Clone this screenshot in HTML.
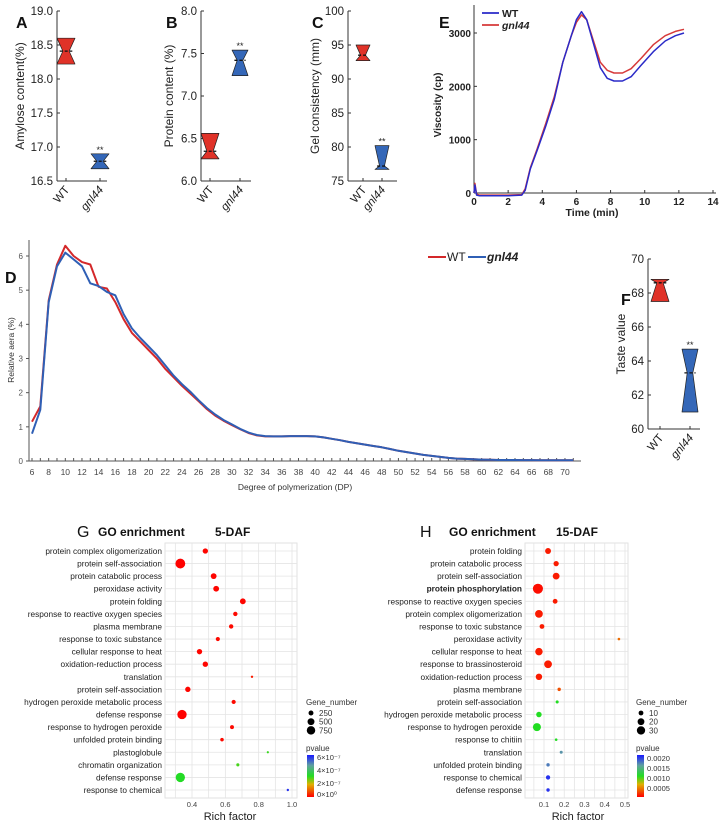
<!DOCTYPE html>
<html><head><meta charset="utf-8"><style>
html,body{margin:0;padding:0;background:#fff}
svg{display:block;font-family:"Liberation Sans",Arial,sans-serif}
</style></head><body>
<svg id="fig" width="724" height="826" viewBox="0 0 724 826" xmlns="http://www.w3.org/2000/svg">
<defs>
<linearGradient id="gradG" x1="0" y1="1" x2="0" y2="0">
<stop offset="0" stop-color="#ff0000"/><stop offset="0.3" stop-color="#e0b000"/><stop offset="0.5" stop-color="#22dd22"/><stop offset="0.75" stop-color="#60a0a0"/><stop offset="1" stop-color="#1a1aff"/></linearGradient>
</defs>
</svg>
<script>
// ---------- data ----------
const violinCats = ["WT", "gnl44"];
const amyloseWT = [18.22, 18.41, 18.6];
const amyloseGnl = [16.68, 16.79, 16.9];
const proteinWT = [6.26, 6.35, 6.56];
const proteinGnl = [7.24, 7.42, 7.54];
const gelWT = [92.7, 93.5, 95.0];
const gelGnl = [76.7, 77.2, 80.2];
const tasteWT = [67.5, 68.6, 68.8];
const tasteGnl = [61.0, 63.3, 64.7];

const rvaTime = [0,0.05,0.15,0.3,1,2,2.8,3.0,3.3,3.7,4.2,4.7,5.2,5.7,6.0,6.3,6.6,7.0,7.4,7.8,8.2,8.7,9.2,9.8,10.5,11.2,11.8,12.3];
const rvaWT = [0,150,-40,-50,-50,-50,-40,50,450,800,1250,1750,2450,2950,3250,3400,3250,2800,2350,2150,2100,2100,2180,2400,2650,2850,2950,3000];
const rvaGnl = [0,180,-20,-40,-40,-40,-30,80,470,830,1300,1800,2450,2950,3200,3340,3250,2850,2450,2300,2250,2250,2330,2530,2780,2950,3030,3070];

const dpValues = [6,7,8,9,10,11,12,13,14,15,16,17,18,19,20,21,22,23,24,25,26,27,28,29,30,31,32,33,34,35,36,37,38,39,40,41,42,43,44,45,46,47,48,49,50,51,52,53,54,55,56,57,58,59,60,61,62,63,64,65,66,67,68,69,70,71];
const dpWT = [1.15,1.6,4.7,5.75,6.3,6.0,5.82,5.75,5.1,5.05,4.65,4.15,3.75,3.5,3.25,3.0,2.7,2.45,2.2,1.98,1.75,1.52,1.33,1.18,1.05,0.93,0.82,0.75,0.72,0.72,0.72,0.73,0.73,0.73,0.72,0.69,0.65,0.61,0.56,0.52,0.48,0.44,0.4,0.35,0.3,0.26,0.22,0.18,0.15,0.12,0.09,0.07,0.06,0.05,0.04,0.035,0.03,0.03,0.03,0.025,0.025,0.02,0.02,0.02,0.02,0.02];
const dpGnl = [0.8,1.5,4.65,5.7,6.1,5.9,5.7,5.2,5.12,4.95,4.85,4.3,3.88,3.6,3.35,3.1,2.8,2.5,2.25,2.03,1.78,1.55,1.36,1.2,1.07,0.94,0.83,0.76,0.73,0.72,0.72,0.73,0.73,0.73,0.72,0.69,0.65,0.61,0.56,0.52,0.48,0.44,0.4,0.35,0.3,0.26,0.22,0.18,0.15,0.12,0.09,0.07,0.06,0.05,0.04,0.035,0.03,0.03,0.03,0.025,0.025,0.02,0.02,0.02,0.02,0.02];

const goTermsG = ["protein complex oligomerization","protein self-association","protein catabolic process","peroxidase activity","protein folding","response to reactive oxygen species","plasma membrane","response to toxic substance","cellular response to heat","oxidation-reduction process","translation","protein self-association","hydrogen peroxide metabolic process","defense response","response to hydrogen peroxide","unfolded protein binding","plastoglobule","chromatin organization","defense response","response to chemical"];
const richG = [0.48,0.33,0.53,0.545,0.705,0.66,0.635,0.555,0.445,0.48,0.76,0.375,0.65,0.34,0.64,0.58,0.855,0.675,0.33,0.975];
const genesG = [300,1000,350,350,350,200,200,180,300,300,60,300,180,900,160,130,50,100,900,60];
const pvalG = [0.05,0.01,0.05,0.05,0.05,0.1,0.1,0.1,0.05,0.05,0.3,0.05,0.1,0.01,0.1,0.1,3.1,3.0,3.3,6.2]; // x1e-7

const goTermsH = ["protein folding","protein catabolic process","protein self-association","protein phosphorylation","response to reactive oxygen species","protein complex oligomerization","response to toxic substance","peroxidase activity","cellular response to heat","response to brassinosteroid","oxidation-reduction process","plasma membrane","protein self-association","hydrogen peroxide metabolic process","response to hydrogen peroxide","response to chitiin","translation","unfolded protein binding","response to chemical","defense response"];
const richH = [0.12,0.16,0.16,0.07,0.155,0.075,0.09,0.47,0.075,0.12,0.075,0.175,0.165,0.075,0.065,0.16,0.185,0.12,0.12,0.12];
const genesH = [15,12,20,44,10,26,10,3,24,26,18,5,4,13,28,3,4,5,8,5];
const pvalH = [0.0001,0.0001,0.0001,0.00005,0.0001,0.0001,0.0001,0.0004,0.0001,0.0001,0.0001,0.0003,0.0011,0.0011,0.0011,0.0011,0.0017,0.0018,0.0021,0.0021];

// ---------- helpers ----------
const NS = "http://www.w3.org/2000/svg";
const svg = document.getElementById("fig");
function mk(tag, attrs, parent) {
  const e = document.createElementNS(NS, tag);
  for (const k in attrs) e.setAttribute(k, attrs[k]);
  (parent || svg).appendChild(e);
  return e;
}
function txt(x, y, s, attrs) {
  const t = mk("text", Object.assign({x: x, y: y}, attrs || {}));
  t.textContent = s;
  return t;
}
function linScale(d0, d1, r0, r1) { return v => r0 + (v - d0) * (r1 - r0) / (d1 - d0); }

// ---------- violin panels ----------
function violinPanel(o) {
  const g = mk("g", {});
  
  
  const y = linScale(o.vmin, o.vmax, o.yBot, o.yTop);
  let l = mk("line", {x1: o.ax, y1: o.yTop, x2: o.ax, y2: o.yBot, stroke: "#333", "stroke-width": 1}, g);
  
  
  l = mk("line", {x1: o.ax, y1: o.yBot, x2: o.xEnd, y2: o.yBot, stroke: "#333", "stroke-width": 1}, g);
  
  
  o.ticks.forEach(v => {
    mk("line", {x1: o.ax, y1: y(v), x2: o.ax + 3, y2: y(v), stroke: "#333"}, g);
    const t = txt(o.ax - 4, y(v) + 4, o.fmt(v), {"font-size": 11.5, "text-anchor": "end", fill: "#222"}, g);
    
    
  });
  const yl = txt(0, 0, o.ylabel, {"font-size": 12, "text-anchor": "middle", fill: "#222", transform: `translate(${o.ylx},${(o.yTop + o.yBot) / 2}) rotate(-90)`}, g);
  
  
  const lt = txt(o.lx, o.ly, o.letter, {"font-size": 16, "font-weight": "bold", fill: "#111"}, g);
  
  
  [o.wt, o.gnl].forEach((d, i) => {
    const cx = o.cx[i], hw = o.hw[i];
    const yb = y(d[0]), ym = y(d[1]), yt = y(d[2]);
    const nw = hw * 0.35;
    const p = mk("path", {d: `M${cx - hw},${yt} L${cx - nw},${ym} L${cx - hw},${yb} L${cx + hw},${yb} L${cx + nw},${ym} L${cx + hw},${yt} Z`,
      fill: i === 0 ? "#e03228" : "#3467b8", stroke: "#222", "stroke-width": 0.7, "stroke-linejoin": "round"}, g);
    
    
    const m = mk("line", {x1: cx - hw * 0.7, y1: ym, x2: cx + hw * 0.7, y2: ym, stroke: "#111", "stroke-width": 1.3, "stroke-dasharray": "3,2"}, g);
    
    
    mk("line", {x1: cx, y1: o.yBot, x2: cx, y2: o.yBot - 3, stroke: "#333"}, g);
    const xl = txt(0, 0, violinCats[i], {"font-size": 11.5, "text-anchor": "end", fill: "#222", "font-style": i ? "italic" : "normal", transform: `translate(${cx + 4},${o.yBot + 9}) rotate(-50)`}, g);
    
    
  });
  const st = txt(o.cx[1], y(o.gnl[2]) - 1, "**", {"font-size": 9, "text-anchor": "middle", fill: "#222"}, g);
  
  
}
violinPanel({name: "panel-a-amylose", ax: 57, xEnd: 107, yTop: 11, yBot: 181, vmin: 16.5, vmax: 19, ticks: [16.5,17,17.5,18,18.5,19], fmt: v => v.toFixed(1),
  cx: [66, 100], hw: [9, 9], wt: amyloseWT, gnl: amyloseGnl, ylabel: "Amylose content(%)", ylx: 24, letter: "A", lx: 16, ly: 28});
violinPanel({name: "panel-b-protein", ax: 201, xEnd: 251, yTop: 11, yBot: 181, vmin: 6, vmax: 8, ticks: [6,6.5,7,7.5,8], fmt: v => v.toFixed(1),
  cx: [210, 240], hw: [9, 8], wt: proteinWT, gnl: proteinGnl, ylabel: "Protein content (%)", ylx: 173, letter: "B", lx: 166, ly: 28});
violinPanel({name: "panel-c-gel", ax: 348, xEnd: 397, yTop: 11, yBot: 181, vmin: 75, vmax: 100, ticks: [75,80,85,90,95,100], fmt: v => String(v),
  cx: [363, 382], hw: [7, 7], wt: gelWT, gnl: gelGnl, ylabel: "Gel consistency (mm)", ylx: 319, letter: "C", lx: 312, ly: 28});
violinPanel({name: "panel-f-taste", ax: 648, xEnd: 700, yTop: 259, yBot: 429, vmin: 60, vmax: 70, ticks: [60,62,64,66,68,70], fmt: v => String(v),
  cx: [660, 690], hw: [9, 8], wt: tasteWT, gnl: tasteGnl, ylabel: "Taste value", ylx: 625, letter: "F", lx: 621, ly: 305});

// ---------- panel E: RVA ----------
(function () {
  const g = mk("g", {});
  
  
  const x = linScale(0, 14, 474, 713), y = linScale(0, 3000, 193, 33);
  mk("line", {x1: 474, y1: 5, x2: 474, y2: 193, stroke: "#333"}, g);
  mk("line", {x1: 474, y1: 193, x2: 716, y2: 193, stroke: "#333"}, g);
  [0, 1000, 2000, 3000].forEach(v => {
    mk("line", {x1: 474, y1: y(v), x2: 477, y2: y(v), stroke: "#333"}, g);
    const t = txt(471, y(v) + 4, String(v), {"font-size": 10, "font-weight": "bold", "text-anchor": "end", fill: "#222"}, g);
    
    
  });
  [0, 2, 4, 6, 8, 10, 12, 14].forEach(v => {
    mk("line", {x1: x(v), y1: 193, x2: x(v), y2: 190, stroke: "#333"}, g);
    const t = txt(x(v), 205, String(v), {"font-size": 10, "font-weight": "bold", "text-anchor": "middle", fill: "#222"}, g);
    
    
  });
  let t = txt(592, 216, "Time (min)", {"font-size": 10.5, "font-weight": "bold", "text-anchor": "middle", fill: "#222"}, g);
  
  
  t = txt(0, 0, "Viscosity (cp)", {"font-size": 10, "font-weight": "bold", "text-anchor": "middle", fill: "#222", transform: "translate(441,105) rotate(-90)"}, g);
  
  
  t = txt(439, 28, "E", {"font-size": 16, "font-weight": "bold", fill: "#111"}, g);
  
  
  [[rvaGnl, "#d63a3a", "rva-line-gnl44"], [rvaWT, "#2a2ac8", "rva-line-wt"]].forEach(s => {
    const d = rvaTime.map((tt, i) => (i ? "L" : "M") + x(tt).toFixed(1) + "," + y(s[0][i]).toFixed(1)).join(" ");
    const p = mk("path", {d: d, fill: "none", stroke: s[1], "stroke-width": 1.5, "stroke-linejoin": "round"}, g);
    
    
  });
  mk("line", {x1: 482, y1: 13, x2: 499, y2: 13, stroke: "#2a2ac8", "stroke-width": 1.8}, g);
  t = txt(502, 17, "WT", {"font-size": 10.5, "font-weight": "bold", fill: "#222"}, g);
  
  
  mk("line", {x1: 482, y1: 25, x2: 499, y2: 25, stroke: "#d63a3a", "stroke-width": 1.8}, g);
  t = txt(502, 29, "gnl44", {"font-size": 10.5, "font-weight": "bold", "font-style": "italic", fill: "#222"}, g);
  
  
})();

// ---------- panel D: DP distribution ----------
(function () {
  const g = mk("g", {});
  
  
  const x = linScale(6, 64, 32, 515), y = linScale(0, 6, 461, 256);
  mk("line", {x1: 29, y1: 240, x2: 29, y2: 461, stroke: "#555"}, g);
  mk("line", {x1: 29, y1: 461, x2: 581, y2: 461, stroke: "#555"}, g);
  for (let v = 0; v <= 6; v++) {
    mk("line", {x1: 26, y1: y(v), x2: 29, y2: y(v), stroke: "#555"}, g);
    const t = txt(23, y(v) + 3, String(v), {"font-size": 8, "text-anchor": "end", fill: "#555"}, g);
    
    
  }
  for (let v = 6; v <= 71; v++) {
    mk("line", {x1: x(v), y1: 461, x2: x(v), y2: 458, stroke: "#555"}, g);
    if (v % 2 === 0) {
      const t = txt(x(v), 475, String(v), {"font-size": 8.5, "text-anchor": "middle", fill: "#444"}, g);
      
      
    }
  }
  let t = txt(295, 490, "Degree of polymerization (DP)", {"font-size": 8.5, "text-anchor": "middle", fill: "#333"}, g);
  
  
  t = txt(0, 0, "Relative aera (%)", {"font-size": 8.5, "text-anchor": "middle", fill: "#333", transform: "translate(14,350) rotate(-90)"}, g);
  
  
  t = txt(5, 283, "D", {"font-size": 16, "font-weight": "bold", fill: "#111"}, g);
  
  
  [[dpWT, "#d4282a", "dp-line-wt"], [dpGnl, "#2f5fb5", "dp-line-gnl44"]].forEach(s => {
    const d = dpValues.map((v, i) => (i ? "L" : "M") + x(v).toFixed(1) + "," + y(s[0][i]).toFixed(1)).join(" ");
    const p = mk("path", {d: d, fill: "none", stroke: s[1], "stroke-width": 2, "stroke-linejoin": "round"}, g);
    
    
  });
  mk("line", {x1: 428, y1: 257, x2: 446, y2: 257, stroke: "#d4282a", "stroke-width": 2}, g);
  t = txt(447, 261, "WT", {"font-size": 12, fill: "#222"}, g);
  
  
  mk("line", {x1: 468, y1: 257, x2: 486, y2: 257, stroke: "#2f5fb5", "stroke-width": 2}, g);
  t = txt(487, 261, "gnl44", {"font-size": 12, "font-weight": "bold", "font-style": "italic", fill: "#222"}, g);
  
  
})();

// ---------- GO bubble panels ----------
function pColor(f) {
  const stops = [[0, [255, 0, 0]], [0.3, [224, 176, 0]], [0.5, [34, 221, 34]], [0.75, [96, 160, 160]], [1, [26, 26, 255]]];
  f = Math.max(0, Math.min(1, f));
  for (let i = 1; i < stops.length; i++) {
    if (f <= stops[i][0]) {
      const a = stops[i - 1], b = stops[i], k = (f - a[0]) / (b[0] - a[0]);
      return "rgb(" + a[1].map((c, j) => Math.round(c + (b[1][j] - c) * k)).join(",") + ")";
    }
  }
  return "rgb(26,26,255)";
}
function goPanel(o) {
  const g = mk("g", {});
  
  
  const x = o.x;
  const y = i => 551 + i * (790 - 551) / 19;
  mk("rect", {x: o.left, y: 543, width: o.right - o.left, height: 255, fill: "#fff", stroke: "#e2e2e2"}, g);
  o.grid.forEach(v => mk("line", {x1: x(v), y1: 543, x2: x(v), y2: 798, stroke: "#e4e4e4", "stroke-width": 0.8}, g));
  o.terms.forEach((s, i) => mk("line", {x1: o.left, y1: y(i), x2: o.right, y2: y(i), stroke: "#e4e4e4", "stroke-width": 0.8}, g));
  o.ticks.forEach(v => {
    const t = txt(x(v), 807, v.toFixed(1), {"font-size": 7.5, "text-anchor": "middle", fill: "#444"}, g);
    
    
  });
  o.terms.forEach((s, i) => {
    const t = txt(o.left - 3, y(i) + 3, s, {"font-size": 8.3, "text-anchor": "end", fill: "#222", "font-weight": o.bold === i ? "bold" : "normal"}, g);
    
    
    const c = mk("circle", {cx: x(o.rich[i]), cy: y(i), r: o.rad(o.genes[i]), fill: pColor(o.pval[i] / o.pmax)}, g);
    
    
  });
  let t = txt(o.rfx, 820, "Rich factor", {"font-size": 11, "text-anchor": "middle", fill: "#222"}, g);
  
  
  t = txt(o.tx[0], 537, o.letter, {"font-size": 16, fill: "#111"}, g);
  
  
  t = txt(o.tx[1], 536, "GO enrichment", {"font-size": 12, "font-weight": "bold", fill: "#111"}, g);
  
  
  t = txt(o.tx[2], 536, o.sub, {"font-size": 12, "font-weight": "bold", fill: "#111"}, g);
  
  
  const lx = o.legX;
  t = txt(lx, 705, "Gene_number", {"font-size": 8, fill: "#333"}, g);
  
  
  o.legSizes.forEach((n, i) => {
    mk("circle", {cx: lx + 5, cy: 713 + i * 8.7, r: o.rad(n), fill: "#000"}, g);
    const tt = txt(lx + 13, 716 + i * 8.7, String(n), {"font-size": 8, fill: "#333"}, g);
    
    
  });
  t = txt(lx, 751, "pvalue", {"font-size": 8, fill: "#333"}, g);
  
  
  const cb = mk("rect", {x: lx + 1, y: 755, width: 7, height: 42, fill: "url(#gradG)"}, g);
  
  
  o.cbLabels.forEach((s, i) => {
    const tt = txt(lx + 11, o.cbY[i], s, {"font-size": 7.5, fill: "#333"}, g);
    
    
  });
}
goPanel({name: "panel-g-go-5daf", terms: goTermsG, rich: richG, genes: genesG, pval: pvalG, pmax: 6.5,
  left: 165, right: 297, x: linScale(0.4, 1.0, 192, 292), grid: [0.3,0.4,0.5,0.6,0.7,0.8,0.9,1.0], ticks: [0.4,0.6,0.8,1.0],
  rad: n => 0.155 * Math.sqrt(n), legSizes: [250, 500, 750], legX: 306, cbLabels: ["6×10⁻⁷","4×10⁻⁷","2×10⁻⁷","0×10⁰"], cbY: [760,773,786,797],
  rfx: 230, letter: "G", sub: "5-DAF", tx: [77, 98, 215], bold: -1});
goPanel({name: "panel-h-go-15daf", terms: goTermsH, rich: richH, genes: genesH, pval: pvalH, pmax: 0.0022,
  left: 525, right: 628, x: linScale(0.1, 0.5, 544, 625), grid: [0.05,0.1,0.15,0.2,0.25,0.3,0.35,0.4,0.45,0.5], ticks: [0.1,0.2,0.3,0.4,0.5],
  rad: n => 0.76 * Math.sqrt(n), legSizes: [10, 20, 30], legX: 636, cbLabels: ["0.0020","0.0015","0.0010","0.0005"], cbY: [761,771,781,791],
  rfx: 578, letter: "H", sub: "15-DAF", tx: [420, 449, 556], bold: 3});
</script>
</body></html>
